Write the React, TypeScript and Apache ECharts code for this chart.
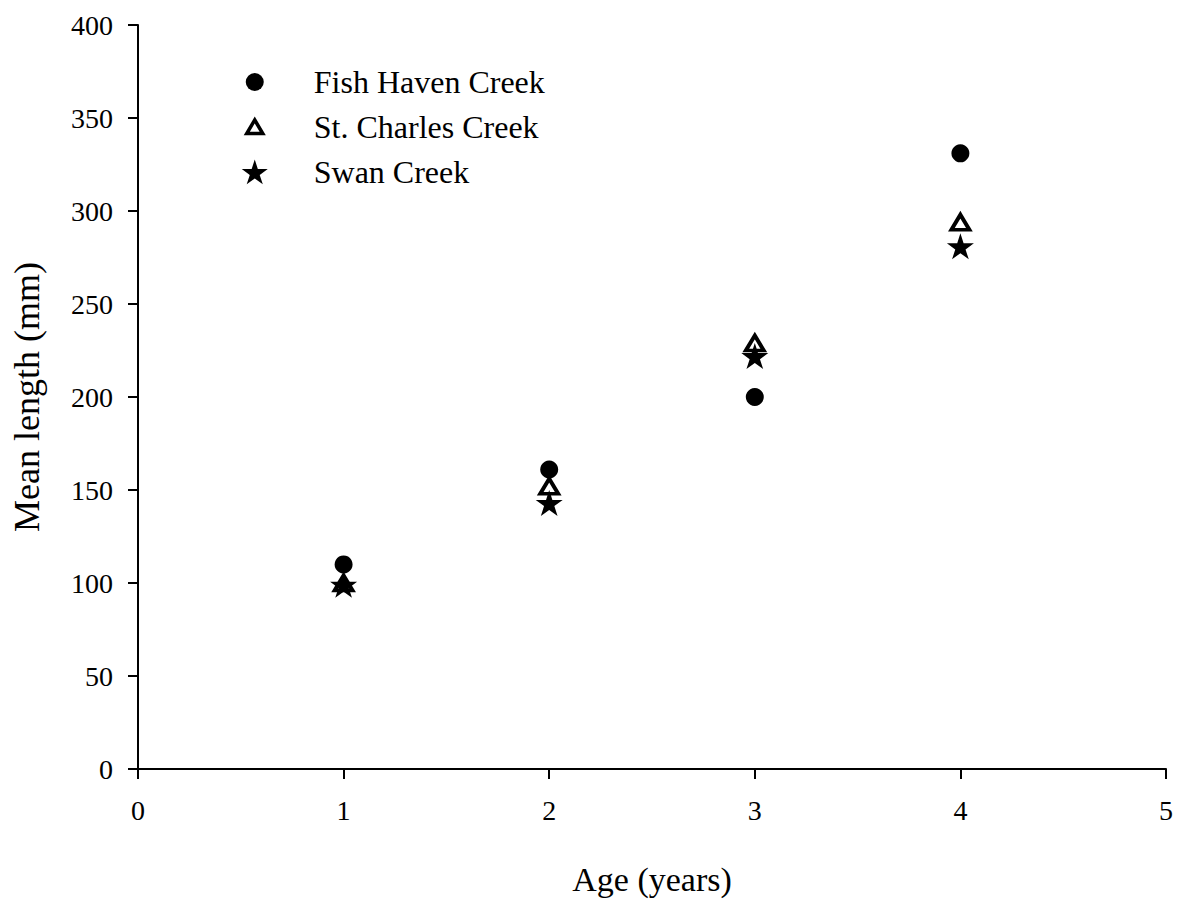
import React, { useEffect, useRef } from "react";
import * as echarts from "echarts";

// Mean length at age for three creeks
const ages = [1, 2, 3, 4];
const fishHaven = [110, 161, 200, 331];
const stCharles = [100, 152, 229, 294];
const swan = [99, 143, 222, 281];

const seriesNames = ["Fish Haven Creek", "St. Charles Creek", "Swan Creek"];
const xTicks = [0, 1, 2, 3, 4, 5];
const yTicks = [0, 50, 100, 150, 200, 250, 300, 350, 400];

const FONT = "'Liberation Serif', 'Times New Roman', Times, serif";

// Five-pointed star used for the plotted symbols
const STAR =
  "path://M100 0L122.45 69.1L195.1 69.1L136.3 111.8L158.8 180.9L100 138.2L41.2 180.9L63.7 111.8L4.9 69.1L77.55 69.1Z";

// Legend icons share one 28x26 box (the leading moveTos fix the box),
// so each glyph keeps its own size inside it
const ICON_CIRCLE = "path://M0 0M28 26M5 13A9 9 0 1 1 23 13A9 9 0 1 1 5 13Z";
const ICON_TRIANGLE = "path://M0 0M28 26M14 6L22 19.5L6 19.5Z";
const ICON_STAR =
  "path://M0 0M28 26M14 0.6L17.07 10.08L27 10.08L18.96 15.92L22.04 25.37L14 19.53L5.96 25.37L9.04 15.92L1 10.08L10.93 10.08Z";

const pairs = (ys: number[]) => ages.map((a, i) => [a, ys[i]]);

export default function App() {
  const ref = useRef<HTMLDivElement>(null);

  useEffect(() => {
    if (!ref.current) return;
    const chart = echarts.init(ref.current, undefined, { renderer: "svg" });
    chart.setOption({
      animation: false,
      backgroundColor: "#ffffff",
      grid: { left: 138, right: 11, top: 25, bottom: 129, containLabel: false },
      legend: {
        orient: "vertical",
        left: 234,
        top: 58,
        itemWidth: 28,
        itemHeight: 26,
        itemGap: 7,
        data: [
          { name: seriesNames[0], icon: ICON_CIRCLE, itemStyle: { color: "#000", borderWidth: 0 } },
          {
            name: seriesNames[1],
            icon: ICON_TRIANGLE,
            itemStyle: { color: "#fff", borderColor: "#000", borderWidth: 3.5 },
          },
          { name: seriesNames[2], icon: ICON_STAR, itemStyle: { color: "#000", borderWidth: 0 } },
        ],
        textStyle: {
          fontFamily: FONT,
          fontSize: 32,
          color: "#000",
          lineHeight: 26,
          padding: [12, 0, 0, 40],
        },
      },
      xAxis: {
        type: "value",
        min: xTicks[0],
        max: xTicks[xTicks.length - 1],
        interval: 1,
        name: "Age (years)",
        nameLocation: "middle",
        nameGap: 93,
        nameTextStyle: { fontFamily: FONT, fontSize: 34, color: "#000" },
        axisLine: { show: true, onZero: false, lineStyle: { color: "#000", width: 2 } },
        axisTick: { show: true, inside: false, length: 10, lineStyle: { color: "#000", width: 2 } },
        axisLabel: { fontFamily: FONT, fontSize: 28, color: "#000", margin: 27 },
        splitLine: { show: false },
      },
      yAxis: {
        type: "value",
        min: yTicks[0],
        max: yTicks[yTicks.length - 1],
        interval: 50,
        name: "Mean length (mm)",
        nameLocation: "middle",
        nameGap: 93,
        nameTextStyle: { fontFamily: FONT, fontSize: 36, color: "#000" },
        axisLine: { show: true, onZero: false, lineStyle: { color: "#000", width: 2 } },
        axisTick: { show: true, inside: false, length: 10, lineStyle: { color: "#000", width: 2 } },
        axisLabel: { fontFamily: FONT, fontSize: 28, color: "#000", margin: 25 },
        splitLine: { show: false },
      },
      series: [
        {
          name: seriesNames[0],
          type: "scatter",
          symbol: "circle",
          symbolSize: 18,
          itemStyle: { color: "#000", opacity: 1 },
          data: pairs(fishHaven),
          z: 2,
        },
        {
          name: seriesNames[1],
          type: "scatter",
          symbol: "triangle",
          symbolSize: [18, 15],
          itemStyle: { color: "#fff", borderColor: "#000", borderWidth: 3.8, opacity: 1 },
          data: pairs(stCharles),
          z: 3,
        },
        {
          name: seriesNames[2],
          type: "scatter",
          symbol: STAR,
          symbolSize: [27, 26],
          itemStyle: { color: "#000", opacity: 1 },
          data: pairs(swan),
          z: 4,
        },
      ],
    });
    return () => chart.dispose();
  }, []);

  return (
    <div
      ref={ref}
      style={{ position: "absolute", left: 0, top: 0, width: 1177, height: 901 }}
    />
  );
}
